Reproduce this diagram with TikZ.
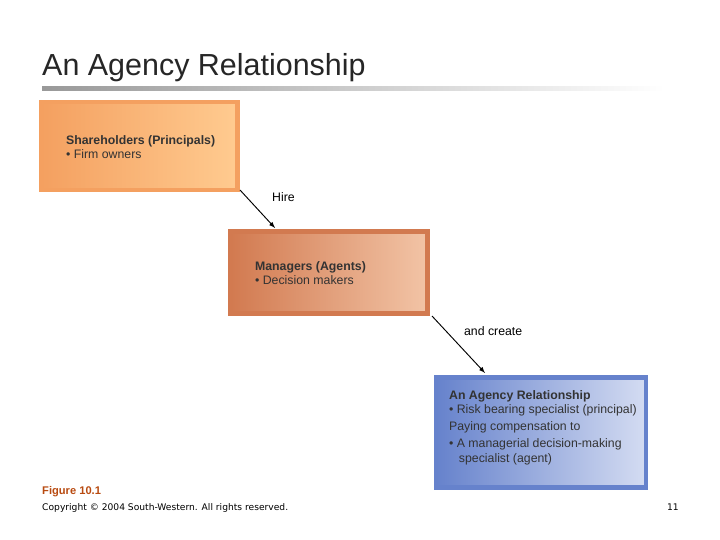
\documentclass[tikz,border=0pt]{standalone}
\usepackage{fontspec}
\setmainfont{Liberation Sans}
\newfontfamily\smallfont{DejaVu Sans}
\usetikzlibrary{positioning,calc,arrows}
\definecolor{orgdark}{HTML}{F4A060}
\definecolor{orglight}{HTML}{FFCB90}
\definecolor{mgrdark}{HTML}{D27A50}
\definecolor{mgrlight}{HTML}{F2C4A6}
\definecolor{agydark}{HTML}{6682CC}
\definecolor{agylight}{HTML}{D4DCF2}
\definecolor{figcol}{HTML}{B84A10}
\begin{document}
\begin{tikzpicture}[
x=0.03cm,y=-0.03cm,
box/.style={
  draw=#1dark,
  line width=4pt,
  left color=#1dark,
  right color=#1light,
  minimum height=2.64cm,
  },
txt/.style={
  anchor=north west,
  align=left,
  font=\fontsize{10.5}{12.5}\selectfont,
  text=black!80
  },
>=latex
]
\useasboundingbox (0,0) rectangle (720,540);
% title and rule
\node[anchor=base west,inner sep=0,font=\fontsize{26}{30}\selectfont,text=black!85] (title) at (42,76) {An Agency Relationship};
\shade[left color=gray!80,right color=white] (42,87) rectangle (665,91);
% boxes
\node[box=org,minimum width=5.9cm] (share) at (139.5,146) {};
\node[box=mgr,minimum width=5.9cm,minimum height=2.44cm] (mgr) at (329,272.5) {};
\node[box=agy,minimum width=6.3cm,minimum height=3.3cm] (agy) at (541,432.5) {};
\node[txt] (sharetxt) at (62,131) {\textbf{Shareholders (Principals)}\\\textbullet\ Firm owners};
\node[txt] (mgrtxt) at (251,257) {\textbf{Managers (Agents)}\\\textbullet\ Decision makers};
\node[txt] (agytxt) at (445,386) {\textbf{An Agency Relationship}\\\textbullet\ Risk bearing specialist (principal)\\[2pt]Paying compensation to\\[2pt]\textbullet\ A managerial decision-making\\\hspace*{0.8em}specialist (agent)};
% connectors
\coordinate (hstart) at (240,190);
\coordinate (hend) at (275,228);
\coordinate (cstart) at (432,316);
\coordinate (cend) at (485,373);
\draw[-latex,thick] (hstart) -- (hend);
\draw[-latex,thick] (cstart) -- (cend);
\node[anchor=west,font=\fontsize{10.5}{12}\selectfont] (hire) at (268,197) {Hire};
\node[anchor=west,font=\fontsize{10.5}{12}\selectfont] (create) at (460,331) {and create};
% footer
\node[anchor=base west,inner sep=0,text=figcol,font=\fontsize{9.5}{10}\selectfont\bfseries] (fig) at (42,494) {Figure 10.1};
\node[anchor=base west,inner sep=0,font=\smallfont\fontsize{7.8}{9}\selectfont] (copy) at (42,510) {Copyright © 2004 South-Western. All rights reserved.};
\node[anchor=base east,inner sep=0,font=\smallfont\fontsize{7.8}{9}\selectfont] (page) at (679,510) {11};
\end{tikzpicture}
\end{document}
